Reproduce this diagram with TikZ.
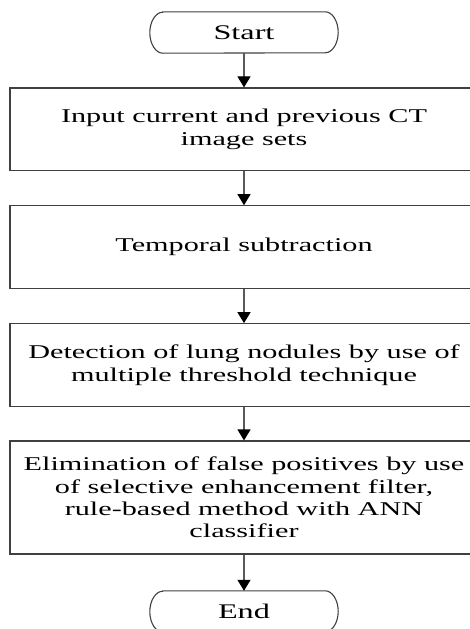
\documentclass[tikz,border=0pt]{standalone}
\usepackage{fontspec}
\newfontfamily\tnr[FakeStretch=1.55]{Liberation Serif}
\usetikzlibrary{arrows.meta}
\begin{document}
\begin{tikzpicture}[x=1pt,y=-1pt,
  txt/.style={font=\tnr\fontsize{19.5}{22.3}\selectfont},
  procbox/.style={txt, draw=black!75, line width=1.1pt, minimum width=468pt, inner sep=0pt, align=center},
  term/.style={font=\tnr\fontsize{20.8}{24}\selectfont, minimum width=162pt, minimum height=41pt, inner sep=0pt},
  termline/.style={draw=black!75, line width=1.1pt},
  flow/.style={draw=black!65, line width=1.1pt, -{Triangle[width=13pt,length=11pt,color=black]}}]
\clip (0,0) rectangle (470,629);
\node[term] (start) at (244,32.5) {Start};
\node[procbox, minimum height=82.7pt] (b1) at (244,129.3) {Input current and previous CT\\image sets};
\node[procbox, minimum height=82.3pt] (b2) at (244,246.9) {Temporal subtraction};
\node[procbox, minimum height=83pt] (b3) at (244,365.2) {Detection of lung nodules by use of\\multiple threshold technique};
\node[procbox, minimum height=113pt] (b4) at (244,497.5) {Elimination of false positives by use\\of selective enhancement filter,\\rule-based method with ANN\\classifier};
\node[term] (end) at (244,611.5) {End};
\foreach \t in {start,end}{
  \draw[termline] (\t.north west) -- (\t.north east)
    .. controls +(7,0) and +(0,-11.3) .. ++(13,20.5)
    .. controls +(0,11.3) and +(7,0) .. ++(-13,20.5)
    -- (\t.south west)
    .. controls +(-7,0) and +(0,11.3) .. ++(-13,-20.5)
    .. controls +(0,-11.3) and +(-7,0) .. ++(13,-20.5) -- cycle;
}
\draw[flow] (start) -- (b1);
\draw[flow] (b1) -- (b2);
\draw[flow] (b2) -- (b3);
\draw[flow] (b3) -- (b4);
\draw[flow] (b4) -- (end);
\end{tikzpicture}
\end{document}
